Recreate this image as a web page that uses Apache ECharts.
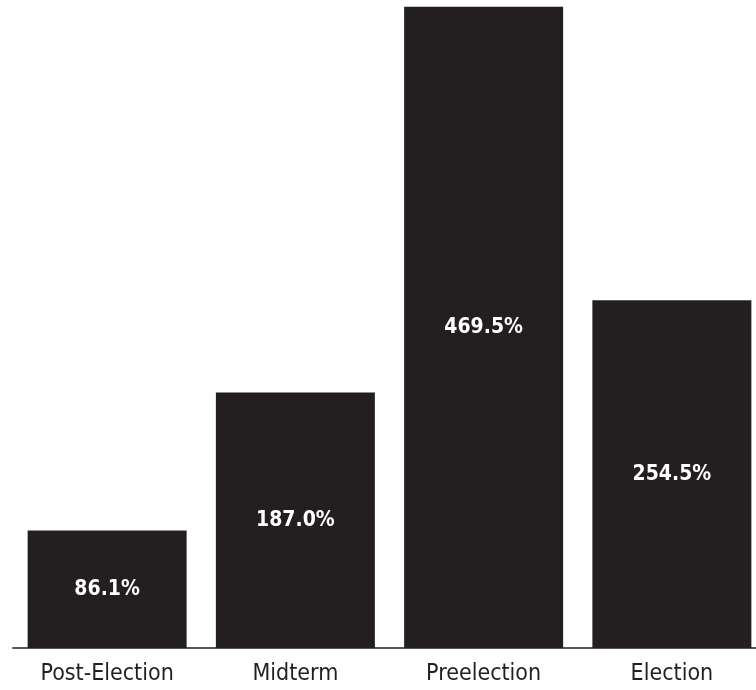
<!DOCTYPE html>
<html>
<head>
<meta charset="utf-8">
<script src="https://cdn.jsdelivr.net/npm/echarts@6/dist/echarts.min.js"></script>
<style>html,body{margin:0;padding:0;background:#fff;overflow:hidden}#c{width:780px;height:690px}</style>
</head>
<body>
<div id="c"></div>
<script>
var categories = ['Post-Election', 'Midterm', 'Preelection', 'Election'];
var values = [86.1, 187.0, 469.5, 254.5];
var labelTexts = ['86.1%', '187.0%', '469.5%', '254.5%'];

var chart = echarts.init(document.getElementById('c'), null, {renderer: 'canvas'});
chart.setOption({
  animation: false,
  backgroundColor: '#ffffff',
  grid: {left: 13, top: 6, width: 753, height: 642, containLabel: false},
  xAxis: {
    type: 'category',
    data: categories,
    axisLine: {show: true, lineStyle: {color: '#555555', width: 2}},
    axisTick: {show: false},
    axisLabel: {
      interval: 0,
      color: '#231f20',
      fontFamily: '"DejaVu Sans Condensed", "Liberation Sans", sans-serif',
      fontSize: 23,
      margin: 15
    }
  },
  yAxis: {
    type: 'value',
    min: 0,
    max: 470,
    show: false,
    splitLine: {show: false}
  },
  series: [{
    type: 'bar',
    data: values,
    barWidth: 159,
    itemStyle: {color: '#231f20'},
    label: {
      show: true,
      position: 'inside',
      color: '#ffffff',
      fontFamily: '"DejaVu Sans Condensed", "Liberation Sans", sans-serif',
      fontWeight: 'bold',
      fontSize: 21,
      formatter: function (p) { return labelTexts[p.dataIndex]; }
    }
  }]
});
</script>
</body>
</html>
